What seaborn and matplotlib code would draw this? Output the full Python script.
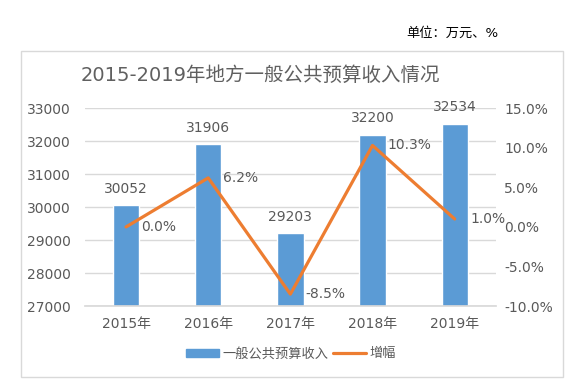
import pandas as pd
import matplotlib.pyplot as plt
import matplotlib.patches as mpatches
from matplotlib.lines import Line2D
import seaborn as sns

# data
years = ['2015年', '2016年', '2017年', '2018年', '2019年']
revenue = [30052, 31906, 29203, 32200, 32534]
growth = [0.0, 6.2, -8.5, 10.3, 1.0]

df = pd.DataFrame({'year': years, 'revenue': revenue, 'growth': growth})

sns.set_theme(style='white')
plt.rcParams['font.family'] = ['DejaVu Sans', 'Noto Sans CJK SC']

blue = '#5B9BD5'
orange = '#ED7D31'
grey = '#595959'

fig = plt.figure(figsize=(5.86, 3.88), dpi=100)
ax = fig.add_axes([0.145, 0.2113, 0.701, 0.5096])

# outer frame of the chart area
fig.patches.append(mpatches.Rectangle((21 / 586, 1 - 377 / 388), 542 / 586, 326 / 388,
                                      transform=fig.transFigure, fill=False,
                                      edgecolor='#D9D9D9', linewidth=1))

sns.barplot(data=df, x='year', y='revenue', color=blue, width=0.32,
            saturation=1, ax=ax)
ax.set_ylim(27000, 33000)
ax.set_yticks(range(27000, 33001, 1000))
ax.grid(axis='y', color='#D9D9D9', linewidth=1)
ax.set_axisbelow(True)
ax.set_xlabel('')
ax.set_ylabel('')
for s in ['top', 'left', 'right']:
    ax.spines[s].set_visible(False)
ax.spines['bottom'].set_color('#D9D9D9')
ax.tick_params(axis='both', length=0, colors=grey, labelsize=10, pad=8)
ax.tick_params(axis='y', pad=10)

for i, v in enumerate(revenue):
    ax.annotate(str(v), (i, v), xytext=(0, 7), textcoords='offset points',
                ha='center', va='bottom', color=grey, fontsize=10)

ax2 = ax.twinx()
sns.lineplot(data=df, x='year', y='growth', color=orange, linewidth=2.3,
             sort=False, ax=ax2)
ax2.set_ylim(-10, 15)
ax2.set_yticks(range(-10, 16, 5))
ax2.set_yticklabels([f'{t:.1f}%' for t in range(-10, 16, 5)])
ax2.set_ylabel('')
for s in ['top', 'left', 'right', 'bottom']:
    ax2.spines[s].set_visible(False)
ax2.tick_params(axis='y', length=0, colors=grey, labelsize=10, pad=6)
ax.set_xlim(-0.5, 4.5)

for i, v in enumerate(growth):
    ax2.annotate(f'{v:.1f}%', (i, v), xytext=(11, 0), textcoords='offset points',
                 ha='left', va='center', color=grey, fontsize=10)

fig.text(260 / 586, 1 - 75 / 388, '2015-2019年地方一般公共预算收入情况',
         ha='center', va='center', fontsize=14, color='#606060')
fig.text(498 / 586, 1 - 33 / 388, '单位：万元、%', ha='right', va='center',
         fontsize=9.5, color='black')

handles = [mpatches.Patch(color=blue, label='一般公共预算收入'),
           Line2D([0], [0], color=orange, linewidth=2.3, label='增幅')]
fig.legend(handles=handles, loc='center', bbox_to_anchor=(291 / 586, 1 - 354 / 388),
           ncol=2, frameon=False, fontsize=9.5, labelcolor=grey,
           handlelength=2.5, handleheight=0.6, columnspacing=0.3, handletextpad=0.3)

fig.savefig('out.png', dpi=100)
